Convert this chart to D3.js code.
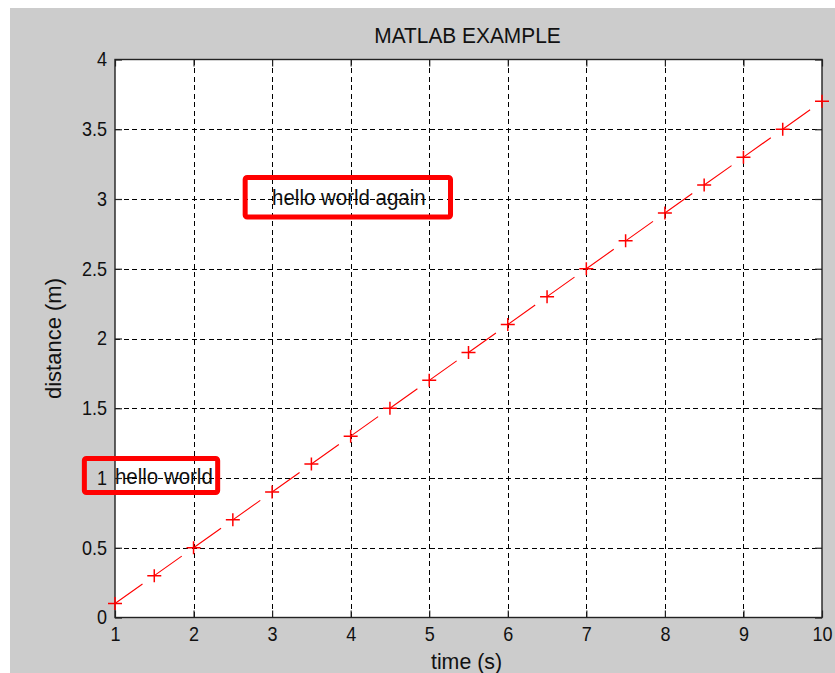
<!DOCTYPE html>
<html>
<head>
<meta charset="utf-8">
<script src="https://cdn.jsdelivr.net/npm/d3@7/dist/d3.min.js"></script>
<style>
  html, body { margin: 0; padding: 0; background: #ffffff; }
  svg { display: block; }
  text { font-family: "Liberation Sans", Arial, Helvetica, sans-serif; fill: #111; }
</style>
</head>
<body>
<svg id="chart" width="835" height="673"></svg>
<script>
// ---- data ----
const timeValues = [1, 1.5, 2, 2.5, 3, 3.5, 4, 4.5, 5, 5.5, 6, 6.5, 7, 7.5, 8, 8.5, 9, 9.5, 10];
const distanceValues = [0.1, 0.3, 0.5, 0.7, 0.9, 1.1, 1.3, 1.5, 1.7, 1.9, 2.1, 2.3, 2.5, 2.7, 2.9, 3.1, 3.3, 3.5, 3.7];
const xTickValues = [1, 2, 3, 4, 5, 6, 7, 8, 9, 10];
const xTickLabels = ["1", "2", "3", "4", "5", "6", "7", "8", "9", "10"];
const yTickValues = [0, 0.5, 1, 1.5, 2, 2.5, 3, 3.5, 4];
const yTickLabels = ["0", "0.5", "1", "1.5", "2", "2.5", "3", "3.5", "4"];
const titleText = "MATLAB EXAMPLE";
const xLabelText = "time (s)";
const yLabelText = "distance (m)";
const annotationLabels = ["hello world", "hello world again"];
const annotationX = [1, 3];
const annotationY = [1, 3];
// highlight boxes, in data units: [x0, x1, y0, y1]
const boxX0 = [0.61, 2.657];
const boxX1 = [2.307, 5.271];
const boxY0 = [0.896, 2.871];
const boxY1 = [1.14, 3.154];

// ---- layout ----
const W = 835, H = 673;
const plotL = 115, plotR = 822, plotT = 59.5, plotB = 617.5;

const svg = d3.select("#chart");

// figure background (gray) with white strip at top/left
svg.append("rect").attr("x", 0).attr("y", 0).attr("width", W).attr("height", H).attr("fill", "#ffffff");
svg.append("rect").attr("x", 10).attr("y", 8).attr("width", W - 10).attr("height", H - 8).attr("fill", "#cccccc");

const x = d3.scaleLinear().domain([1, 10]).range([plotL, plotR]);
const y = d3.scaleLinear().domain([0, 4]).range([plotB, plotT]);

// plot area
svg.append("rect")
  .attr("x", plotL).attr("y", plotT)
  .attr("width", plotR - plotL).attr("height", plotB - plotT)
  .attr("fill", "#ffffff");

function scaledText(parent, tx, ty, str, size, sx, anchor) {
  const g = parent.append("g").attr("transform", `translate(${tx},${ty}) scale(${sx},1)`);
  return g.append("text")
    .attr("x", 0).attr("y", 0)
    .attr("text-anchor", anchor)
    .style("font-size", size + "px")
    .text(str);
}

// annotation texts (drawn beneath grid)
const annG = svg.append("g");
annotationLabels.forEach((lab, i) => {
  scaledText(annG, x(annotationX[i]), y(annotationY[i]) + 6, lab, 22, 0.93, "start");
});

// grid
const gridG = svg.append("g")
  .attr("stroke", "#000").attr("stroke-width", 1)
  .attr("stroke-dasharray", "5,3.5").attr("shape-rendering", "crispEdges");
gridG.selectAll("line.gx")
  .data(xTickValues.filter(v => v > 1 && v < 10))
  .join("line")
  .attr("x1", d => Math.round(x(d)) + 0.5).attr("x2", d => Math.round(x(d)) + 0.5)
  .attr("y1", plotT).attr("y2", plotB);
gridG.selectAll("line.gy")
  .data(yTickValues.filter(v => v > 0 && v < 4), d => "y" + d)
  .join("line")
  .attr("y1", d => Math.round(y(d)) + 0.5).attr("y2", d => Math.round(y(d)) + 0.5)
  .attr("x1", plotL).attr("x2", plotR);

// axis box and inner ticks
const xAxisB = d3.axisBottom(x).tickValues(xTickValues).tickSize(-7).tickFormat((d, i) => xTickLabels[i]).tickPadding(17);
const xAxisT = d3.axisTop(x).tickValues(xTickValues).tickSize(-7).tickFormat("");
const yAxisL = d3.axisLeft(y).tickValues(yTickValues).tickSize(-7).tickFormat((d, i) => yTickLabels[i]).tickPadding(15);
const yAxisR = d3.axisRight(y).tickValues(yTickValues).tickSize(-7).tickFormat("");

function styleAxis(g) {
  g.select(".domain").remove();
  g.selectAll(".tick line").attr("stroke", "#222").attr("stroke-width", 1.2);
  g.selectAll("text").attr("fill", "#111")
    .style("font-family", '"Liberation Sans", Arial, sans-serif')
    .style("font-size", "20px");
}
const gxb = svg.append("g").attr("transform", `translate(0,${plotB})`).call(xAxisB).call(styleAxis);
svg.append("g").attr("transform", `translate(0,${plotT})`).call(xAxisT).call(styleAxis);
const gyl = svg.append("g").attr("transform", `translate(${plotL},0)`).call(yAxisL).call(styleAxis);
svg.append("g").attr("transform", `translate(${plotR},0)`).call(yAxisR).call(styleAxis);

// condense tick labels horizontally
gxb.selectAll(".tick text").attr("dy", "0.35em")
  .attr("transform", "scale(0.9,1)")
  .attr("x", 0).attr("y", 17);
gyl.selectAll(".tick text").attr("transform", "scale(0.9,1)").attr("x", -8 / 0.9);

svg.append("rect")
  .attr("x", plotL).attr("y", plotT)
  .attr("width", plotR - plotL).attr("height", plotB - plotT)
  .attr("fill", "none").attr("stroke", "#222").attr("stroke-width", 1.4);

// data line (dashed, each dash starting at a sample)
const pts = timeValues.map((t, i) => [x(t), y(distanceValues[i])]);
const segLen = Math.hypot(pts[1][0] - pts[0][0], pts[1][1] - pts[0][1]);
svg.append("path")
  .attr("d", d3.line()(pts))
  .attr("fill", "none").attr("stroke", "#ff0000").attr("stroke-width", 1.1)
  .attr("stroke-dasharray", `${(segLen * 0.7).toFixed(2)},${(segLen * 0.3).toFixed(2)}`);

// '+' markers
const mk = svg.append("g").attr("stroke", "#ff0000").attr("stroke-width", 1.5);
mk.selectAll("path")
  .data(pts)
  .join("path")
  .attr("d", d => `M${d[0] - 7},${d[1]}H${d[0] + 7}M${d[0]},${d[1] - 6.5}V${d[1] + 6.5}`);

// title and axis labels
scaledText(svg, (plotL + plotR) / 2 - 1, 42.5, titleText, 22, 0.95, "middle");
scaledText(svg, (plotL + plotR) / 2 - 2, 669, xLabelText, 22, 0.97, "middle");
svg.append("text")
  .attr("transform", `translate(61,${(plotT + plotB) / 2}) rotate(-90)`)
  .attr("text-anchor", "middle")
  .style("font-size", "22px")
  .text(yLabelText);

// red highlight boxes
svg.append("g").selectAll("rect")
  .data(boxX0.map((v, i) => i))
  .join("rect")
  .attr("x", i => x(boxX0[i])).attr("y", i => y(boxY1[i]))
  .attr("width", i => x(boxX1[i]) - x(boxX0[i]))
  .attr("height", i => y(boxY0[i]) - y(boxY1[i]))
  .attr("rx", 2).attr("ry", 2)
  .attr("fill", "none").attr("stroke", "#ff0000").attr("stroke-width", 5);
</script>
</body>
</html>
